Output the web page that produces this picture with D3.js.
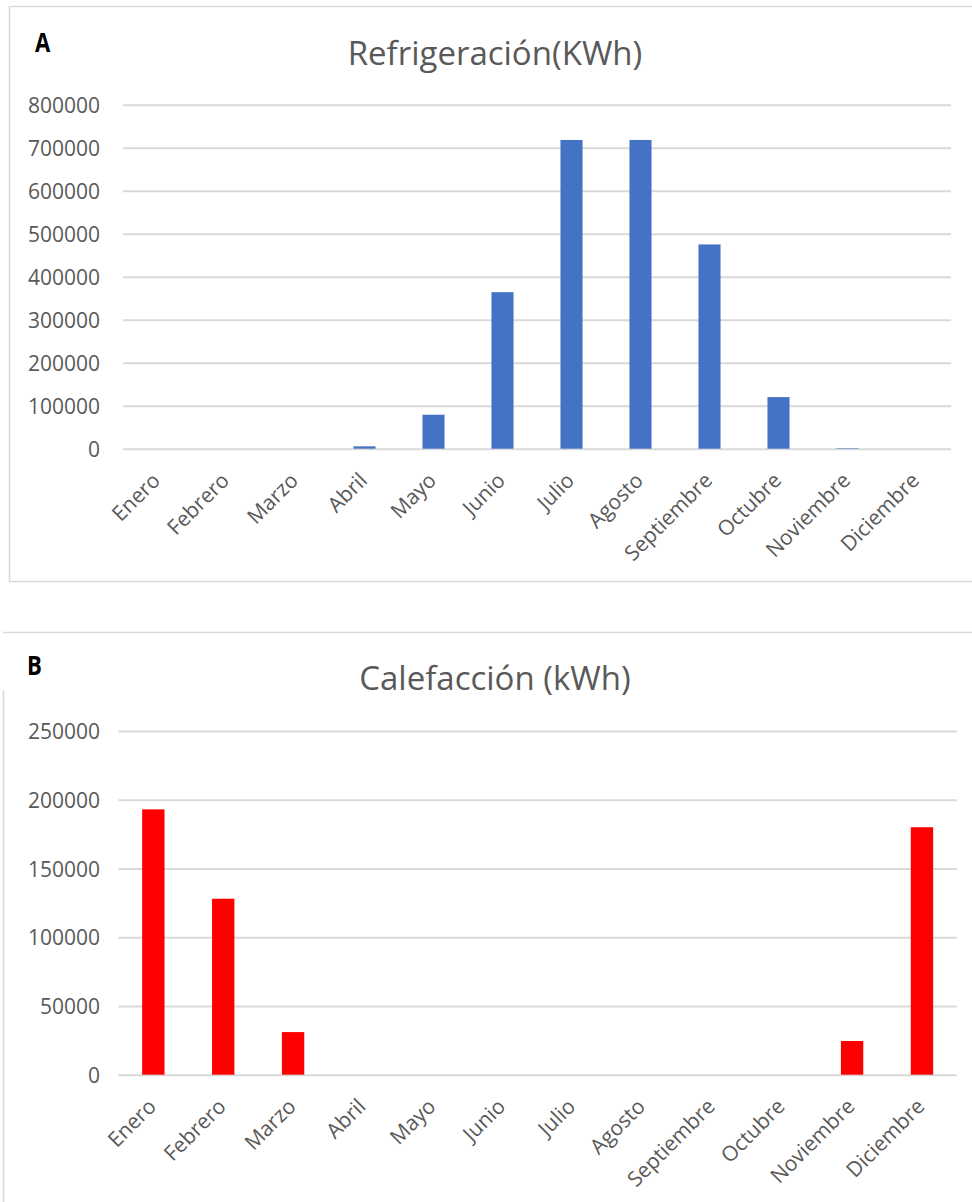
<!DOCTYPE html>
<html>
<head>
<meta charset="utf-8">
<script src="https://cdn.jsdelivr.net/npm/d3@7"></script>
<style>
  html, body { margin: 0; padding: 0; background: #ffffff; }
  svg { display: block; }
  text { font-family: "Open Sans", "Noto Sans", sans-serif; }
</style>
</head>
<body>
<svg id="chart" width="972" height="1202"></svg>
<script>
// ---- data ----
const months = ["Enero", "Febrero", "Marzo", "Abril", "Mayo", "Junio", "Julio",
                "Agosto", "Septiembre", "Octubre", "Noviembre", "Diciembre"];
const refrigeracion = [0, 0, 0, 5500, 79000, 364000, 718000, 718000, 475000, 120000, 1200, 0];
const calefaccion = [193000, 128000, 31000, 0, 0, 0, 0, 0, 0, 0, 24500, 180000];
const ticksA = [0, 100000, 200000, 300000, 400000, 500000, 600000, 700000, 800000];
const ticksB = [0, 50000, 100000, 150000, 200000, 250000];
const titleA = "Refrigeración(KWh)";
const titleB = "Calefacción (kWh)";

const svg = d3.select("#chart");
const gridColor = "#d9d9d9";
const textColor = "#595959";

// panel frames
svg.append("rect")
  .attr("x", 9.5).attr("y", 6.5).attr("width", 1000).attr("height", 575)
  .attr("fill", "none").attr("stroke", gridColor).attr("stroke-width", 1.5);
svg.append("line")
  .attr("x1", 3).attr("x2", 972).attr("y1", 632.5).attr("y2", 632.5)
  .attr("stroke", gridColor).attr("stroke-width", 1.5);
svg.append("line")
  .attr("x1", 3.5).attr("x2", 3.5).attr("y1", 690).attr("y2", 1202)
  .attr("stroke", gridColor).attr("stroke-width", 1.5);

function panel(opts) {
  const { values, ticks, title, letter, color, x0, x1, yTop, yBottom, maxV,
          titleX, titleY, letterX, letterY } = opts;
  const g = svg.append("g");
  const x = d3.scaleBand().domain(months).range([x0, x1]).paddingInner(0.68).paddingOuter(0.34);
  const y = d3.scaleLinear().domain([0, maxV]).range([yBottom, yTop]);

  // gridlines + tick labels
  const yAxis = d3.axisLeft(y).tickValues(ticks).tickSize(-(x1 - x0)).tickPadding(22)
    .tickFormat(d3.format("d"));
  const ya = g.append("g").attr("transform", `translate(${x0},0)`).call(yAxis);
  ya.select(".domain").remove();
  ya.selectAll(".tick line").attr("stroke", gridColor).attr("stroke-width", 2);
  ya.selectAll(".tick text").attr("fill", textColor).attr("font-size", 21)
    .attr("font-family", "'Open Sans', sans-serif")
    .attr("x", 100 - x0).attr("dy", "0.36em");

  // bars
  g.append("g").selectAll("rect").data(values).join("rect")
    .attr("x", (d, i) => x(months[i]))
    .attr("width", x.bandwidth())
    .attr("y", d => y(d))
    .attr("height", d => yBottom - y(d))
    .attr("fill", color);

  // x labels
  const xa = g.append("g");
  xa.selectAll("text").data(months).join("text")
    .attr("transform", d => `translate(${x(d) + x.bandwidth() / 2 + 4},${yBottom + 33}) rotate(-45)`)
    .attr("text-anchor", "end")
    .attr("fill", textColor)
    .attr("font-size", 21)
    .text(d => d);

  // title
  g.append("text").attr("x", titleX).attr("y", titleY)
    .attr("text-anchor", "middle").attr("fill", textColor)
    .attr("font-size", 33)
    .text(title);
  // letter
  g.append("text")
    .attr("transform", `translate(${letterX},${letterY}) scale(0.82,1)`)
    .attr("fill", "#000").attr("font-size", 27).attr("font-weight", 700)
    .attr("font-family", "'Liberation Sans', 'DejaVu Sans', sans-serif")
    .text(letter);
}

panel({ values: refrigeracion, ticks: ticksA, title: titleA, letter: "A", color: "#4472C4",
        x0: 123, x1: 951, yTop: 104.7, yBottom: 448.7, maxV: 800000,
        titleX: 495, titleY: 65, letterX: 35, letterY: 52 });
panel({ values: calefaccion, ticks: ticksB, title: titleB, letter: "B", color: "#FF0000",
        x0: 118.4, x1: 956.9, yTop: 731, yBottom: 1074.7, maxV: 250000,
        titleX: 495, titleY: 690, letterX: 27, letterY: 675 });
</script>
</body>
</html>
